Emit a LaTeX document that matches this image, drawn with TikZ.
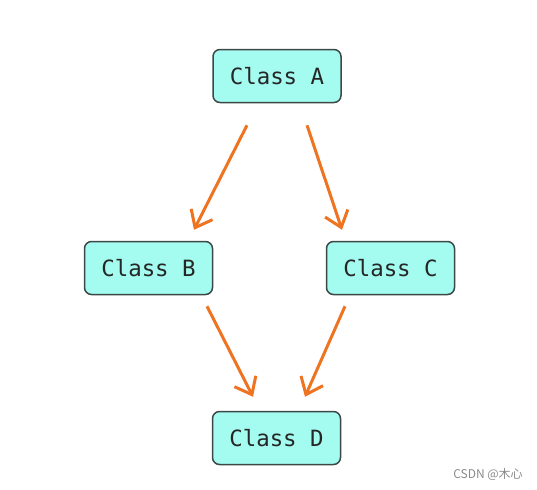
\documentclass[tikz,border=0pt]{standalone}
\usepackage{fontspec}
\setmonofont{DejaVu Sans Mono}
\newfontfamily\cjk{Noto Sans CJK SC}
\usepackage{tikz}
\usetikzlibrary{positioning,calc,arrows.meta}
\definecolor{ink}     {HTML}{3C4846}
\definecolor{aqua}    {HTML}{A4FBEF}
\definecolor{carrot}  {HTML}{EE7422}
\definecolor{softink} {HTML}{8A8A8A}
\tikzset{
  % --- nodes
  cls/.style    = {rounded corners=3.5pt, draw=ink, fill=aqua, align=center,
                   line width=0.75pt, minimum width=64pt, minimum height=26.5pt,
                   font=\ttfamily\fontsize{11.2}{13}\selectfont, text=black!85},
  wmark/.style  = {font=\cjk\fontsize{6}{7}\selectfont, text=softink},
  % --- edges
  e/.style      = {-{Straight Barb[length=7.5pt,width=12pt]}, line width=1.5pt, draw=carrot},
}
\begin{document}
\begin{tikzpicture}[x=0.5pt,y=-0.5pt]
  \useasboundingbox (0,0) rectangle (537,489);

  \node[cls] (a) at (277,76)    {Class A};
  \node[cls] (b) at (148.5,268) {Class B};
  \node[cls] (c) at (390.5,268) {Class C};
  \node[cls] (d) at (276.5,438) {Class D};

  \draw[e] ($(a.south)+(-30,22)$)  -- ($(b.north)+(45.5,-11)$);
  \draw[e] ($(a.south)+(30,22)$)   -- ($(c.north)+(-48.5,-11)$);
  \draw[e] ($(b.south)+(58.5,11)$) -- ($(d.north)+(-23.5,-14)$);
  \draw[e] ($(c.south)+(-45.5,11)$) -- ($(d.north)+(28.5,-14)$);

  \node[wmark] (wm) at (488,474) {CSDN @木心};
\end{tikzpicture}
\end{document}
